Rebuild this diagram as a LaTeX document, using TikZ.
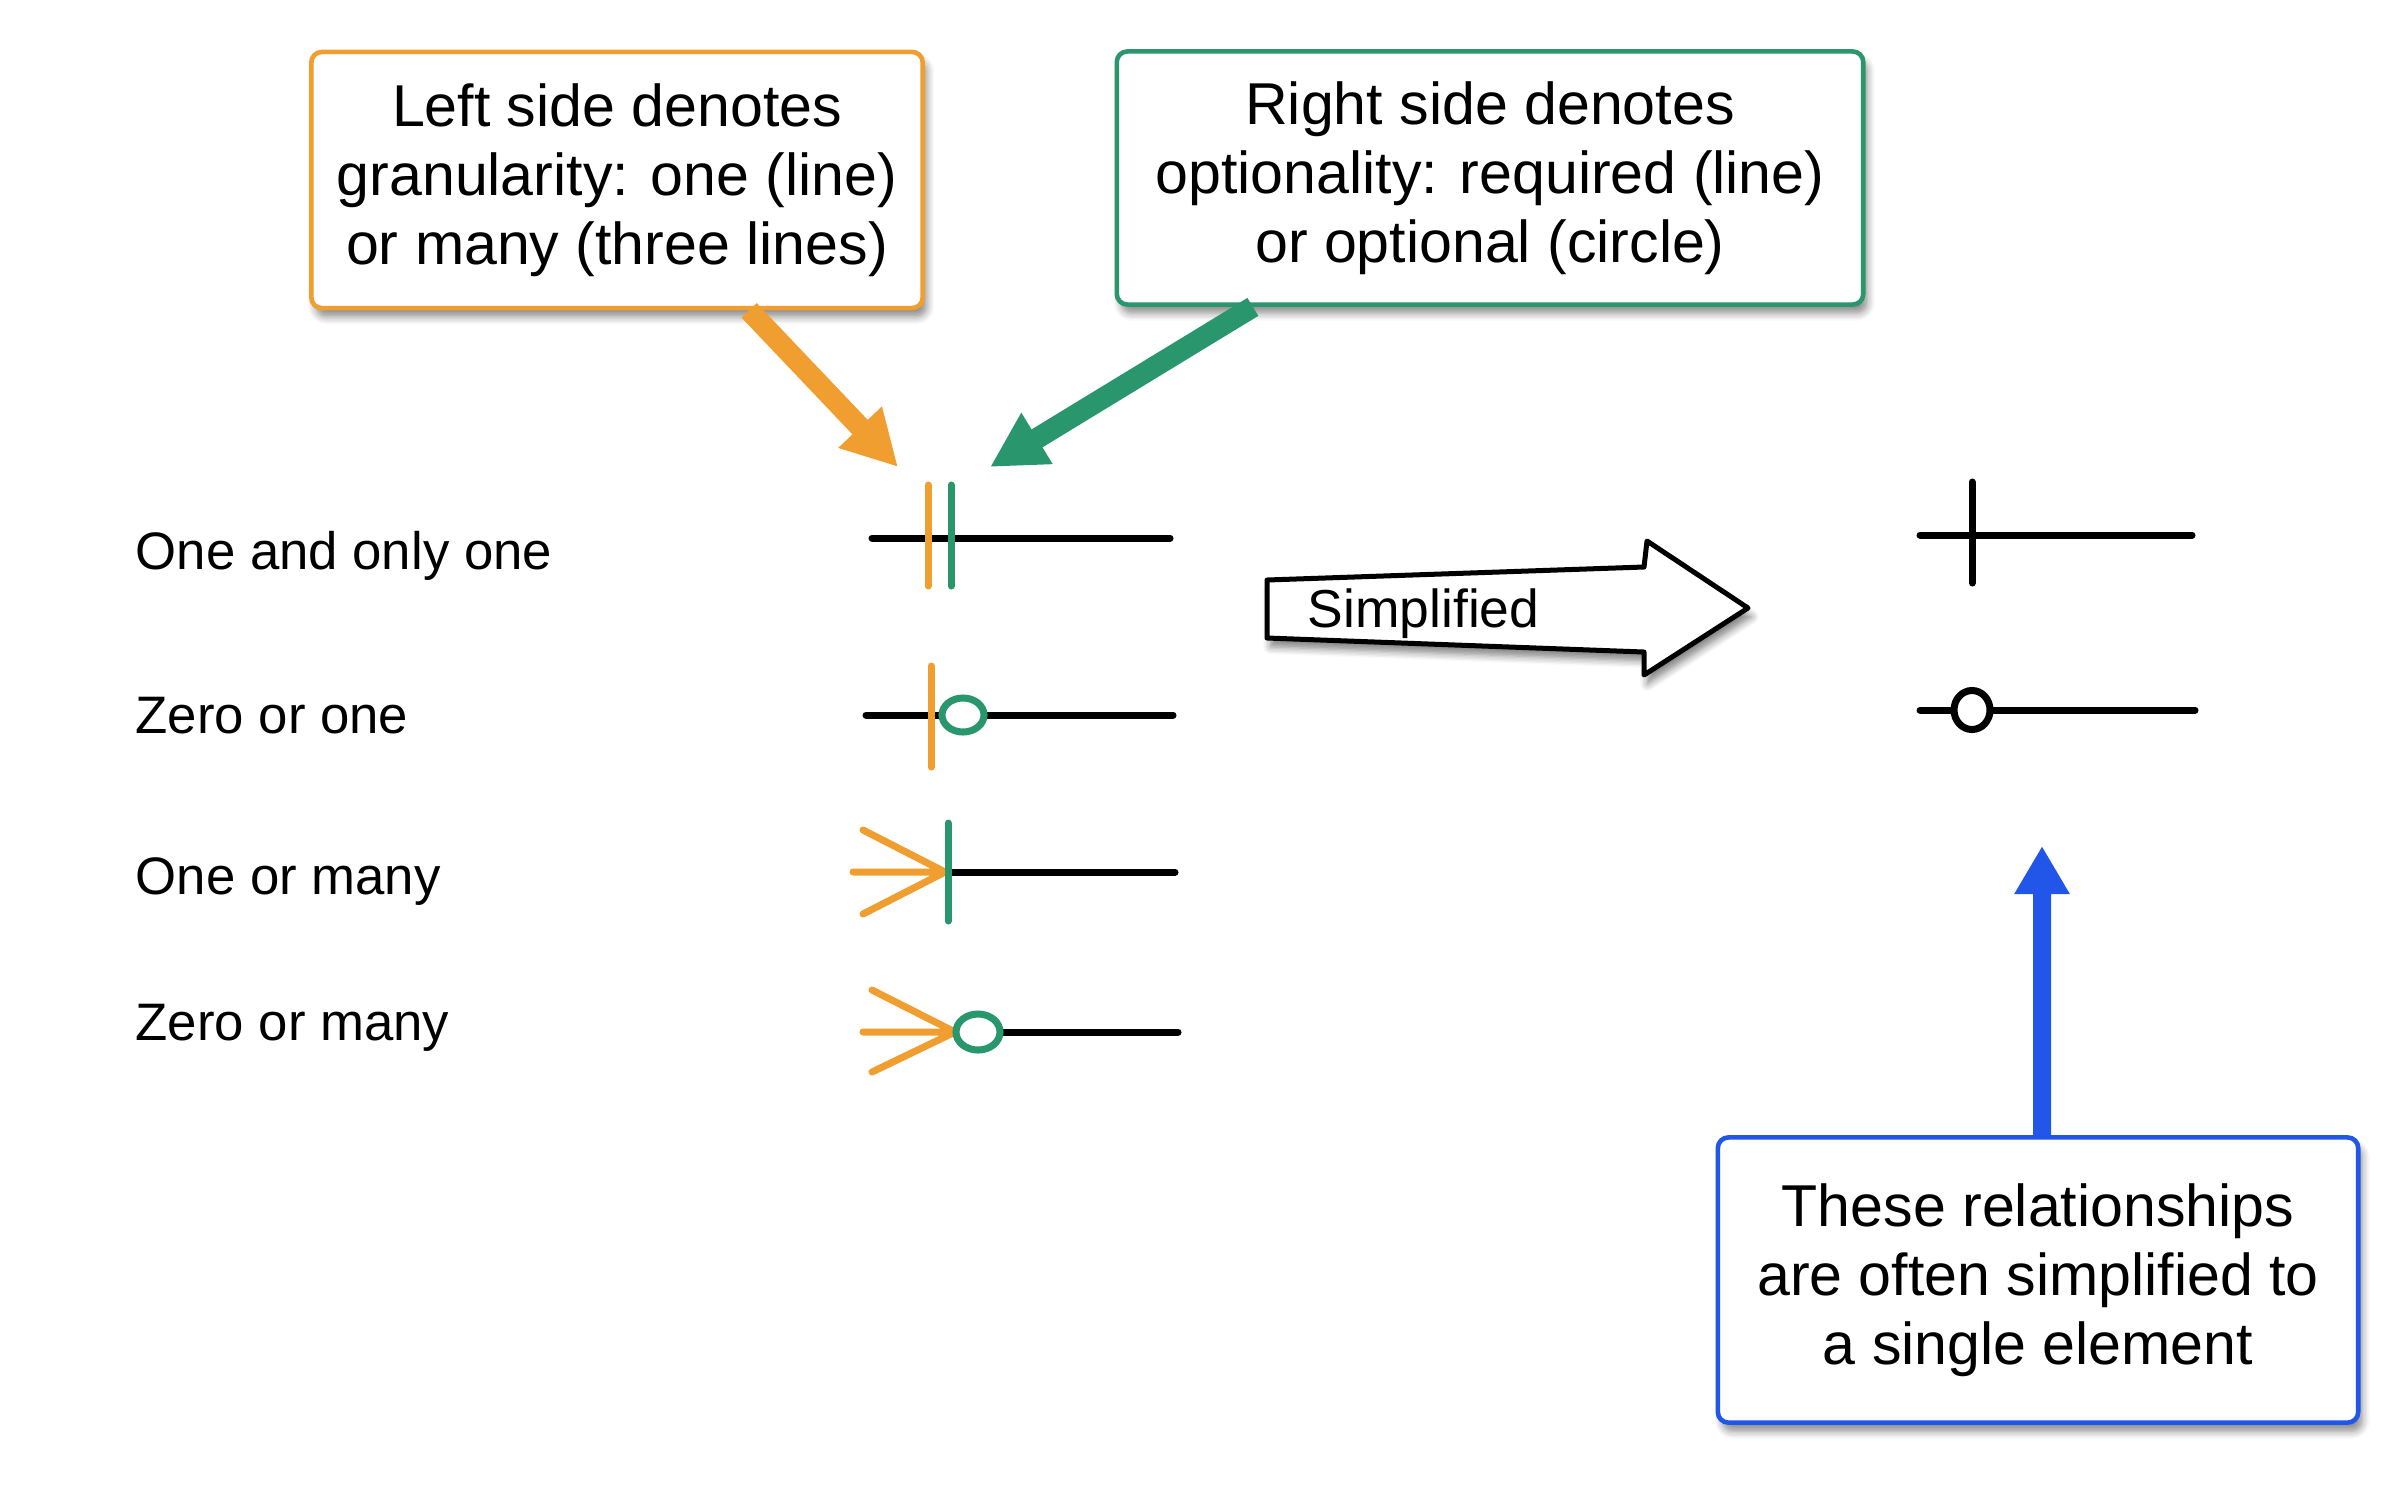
\documentclass[tikz,border=0pt]{standalone}
\usepackage{fontspec}
\setmainfont{Liberation Sans}
\usetikzlibrary{arrows.meta}
\usetikzlibrary{shadows.blur}
\definecolor{granorange}{RGB}{240,158,48}
\definecolor{optgreen}{RGB}{41,150,110}
\definecolor{simpblue}{RGB}{33,86,232}

\tikzset{
  notebox/.style={draw=#1, line width=1.3pt, rounded corners=3pt, fill=white,
    align=center, inner sep=0pt, font=\fontsize{16.8}{19.6}\selectfont,
    blur shadow={shadow xshift=1.2pt, shadow yshift=-2.5pt, shadow opacity=45, shadow blur steps=6}},
  notearrow/.style={draw=#1, line width=0.21cm, -{Triangle[length=0.55cm, width=0.56cm]}},
  relline/.style={line width=2pt, line cap=round},
  rowtext/.style={anchor=base west, inner sep=0pt, font=\fontsize{15}{18}\selectfont}
}

\begin{document}
\begin{tikzpicture}[x=0.01cm, y=-0.01cm]
\useasboundingbox (0,0) rectangle (2404,1484);

% the three notes
\node[notebox=granorange, minimum width=6.11cm, minimum height=2.56cm] (leftnote) at (617,180)
  {Left side denotes\\granularity: one (line)\\or many (three lines)};
\node[notebox=optgreen, minimum width=7.46cm, minimum height=2.53cm] (rightnote) at (1490,178)
  {Right side denotes\\optionality: required (line)\\or optional (circle)};
\node[notebox=simpblue, minimum width=6.40cm, minimum height=2.85cm] (simplenote) at (2038,1280)
  {These relationships\\are often simplified to\\a single element};

\coordinate (leftaim) at (898,467);
\coordinate (rightaim) at (990,467);
\coordinate (simpaim) at (2042,846);

\draw[notearrow=granorange] ([xshift=1.32cm]leftnote.south) -- (leftaim);
\draw[notearrow=optgreen] ([xshift=-2.37cm]rightnote.south) -- (rightaim);
\draw[notearrow=simpblue, line width=0.18cm, -{Triangle[length=0.48cm, width=0.52cm]}] ([xshift=0.04cm]simplenote.north) -- (simpaim);

% row labels
\node[rowtext] (onlyone) at (135,569) {One and only one};
\node[rowtext] (zeroone) at (135,733) {Zero or one};
\node[rowtext] (onemany) at (135,894) {One or many};
\node[rowtext] (zeromany) at (135,1040) {Zero or many};

% one and only one
\draw[relline] (872,538) -- (1170,538);
\draw[relline, granorange] (928,485) -- (928,586);
\draw[relline, optgreen] (951,485) -- (951,586);

% zero or one
\draw[relline] (866,715) -- (1173,715);
\draw[relline, granorange] (931,666) -- (931,767);
\draw[relline, optgreen, fill=white] (963,715) ellipse [x radius=0.21cm, y radius=0.17cm];

% one or many
\draw[relline] (947,872) -- (1175,872);
\draw[relline, granorange] (863,830) -- (945,872) -- (863,914) (853,872) -- (945,872);
\draw[relline, optgreen] (948,823) -- (948,921);

% zero or many
\draw[relline] (1000,1032) -- (1178,1032);
\draw[relline, granorange] (872,990) -- (955,1032) -- (872,1072) (863,1032) -- (955,1032);
\draw[relline, optgreen, fill=white] (978,1032) ellipse [x radius=0.22cm, y radius=0.18cm];

% simplified arrow
\draw[line width=0.05cm, line join=round, fill=white,
  blur shadow={shadow xshift=1pt, shadow yshift=-2.5pt, shadow opacity=50, shadow blur steps=6}]
  (1267,580) -- (1644,567) -- (1647,541) -- (1748,608) -- (1644,675) -- (1644,652) -- (1267,638) -- cycle;
\node[anchor=base west, inner sep=0pt, font=\fontsize{15.2}{18}\selectfont] (simplified) at (1307,627) {Simplified};

% simplified symbols
\draw[relline] (1920,535) -- (2192,535);
\draw[relline] (1972,482) -- (1972,583);
\draw[relline] (1920,710) -- (2195,710);
\draw[relline, fill=white] (1972,710) ellipse [x radius=0.18cm, y radius=0.195cm];
\end{tikzpicture}
\end{document}
